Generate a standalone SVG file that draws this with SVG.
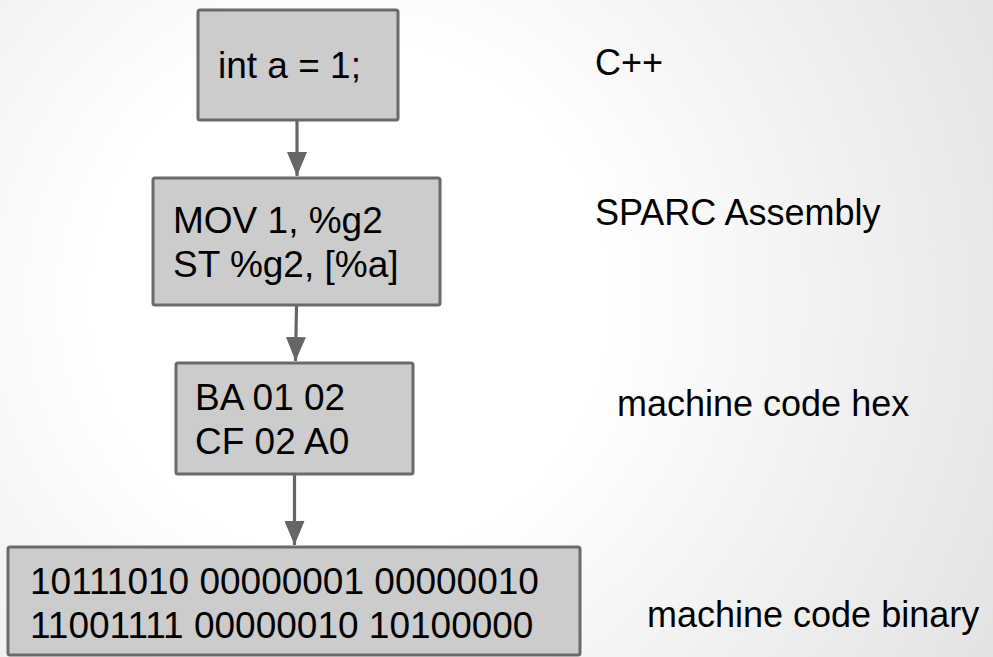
<svg xmlns="http://www.w3.org/2000/svg" width="993" height="657" viewBox="0 0 993 657">
<style>
.box{fill:#cccccc;stroke:#6a6a6a;stroke-width:3}
.t{font-family:"Liberation Sans",Arial,sans-serif;font-size:37px;fill:#000}
.lbl{font-family:"Liberation Sans",Arial,sans-serif;font-size:36px;fill:#000}
.conn{stroke:#666666;stroke-width:3.2;fill:none}
</style>
<defs>
<radialGradient id="bg" gradientUnits="userSpaceOnUse" cx="350" cy="300" r="720">
<stop offset="0" stop-color="#ffffff"/>
<stop offset="0.35" stop-color="#ffffff"/>
<stop offset="1" stop-color="#e4e4e4"/>
</radialGradient>
<marker id="ah" markerUnits="userSpaceOnUse" markerWidth="26" markerHeight="20" viewBox="0 0 26 20" refX="24" refY="10" orient="auto">
<path d="M0,0 L24,10 L0,20 Z" fill="#666666"/>
</marker>
</defs>
<rect x="0" y="0" width="993" height="657" fill="url(#bg)"/>
<g id="connectors">
<line class="conn" x1="297" y1="121" x2="297" y2="176" marker-end="url(#ah)"/>
<line class="conn" x1="296.5" y1="306" x2="295.5" y2="361" marker-end="url(#ah)"/>
<line class="conn" x1="294.5" y1="475" x2="294.5" y2="545" marker-end="url(#ah)"/>
</g>
<g id="node-cpp">
<rect class="box" x="198" y="10" width="200" height="110" rx="2"/>
<text class="t" x="218" y="78">int a = 1;</text>
</g>
<g id="node-asm">
<rect class="box" x="153" y="178" width="287" height="127" rx="2"/>
<text class="t" x="173" y="233">MOV 1, %g2</text>
<text class="t" x="173" y="277">ST %g2, [%a]</text>
</g>
<g id="node-hex">
<rect class="box" x="176" y="363" width="237" height="111" rx="2"/>
<text class="t" x="195" y="410">BA 01 02</text>
<text class="t" x="195" y="454">CF 02 A0</text>
</g>
<g id="node-bin">
<rect class="box" x="8" y="547" width="572" height="108" rx="2"/>
<text class="t" x="30" y="594">10111010 00000001 00000010</text>
<text class="t" x="30" y="638">11001111 00000010 10100000</text>
</g>
<g id="labels">
<text class="lbl" x="595" y="75">C++</text>
<text class="lbl" x="595" y="225">SPARC Assembly</text>
<text class="lbl" x="617" y="416">machine code hex</text>
<text class="lbl" x="647" y="627">machine code binary</text>
</g>
</svg>
